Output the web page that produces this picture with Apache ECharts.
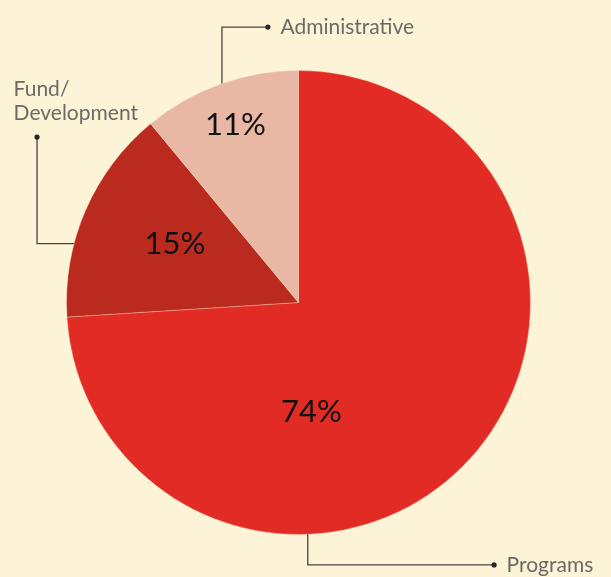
<!DOCTYPE html>
<html>
<head>
<meta charset="utf-8">
<script src="https://cdn.jsdelivr.net/npm/echarts@6/dist/echarts.min.js"></script>
<style>
html,body{margin:0;padding:0;background:#FDF3D7;}
#c{width:611px;height:577px;}
</style>
</head>
<body>
<div id="c"></div>
<script>
// Data
const categories = ['Programs', 'Fund/\nDevelopment', 'Administrative'];
const values = [74, 15, 11];
const colors = ['#E22B25', '#BA2A1F', '#E8B8A4'];

// Layout (styles/positions)
const CX = 298.5, CY = 302.5, R = 232;
// percent label offsets relative to center, in fractions of R
const pctOffsets = [[0.056, 0.472], [-0.533, -0.254], [-0.272, -0.763]];
// leader lines, in fractions of R relative to center
const leaders = [
  [[0.04, 0.578], [0.04, 1.131], [0.843, 1.131]],
  [[-0.692, -0.254], [-1.127, -0.254], [-1.127, -0.713]],
  [[-0.330, -0.871], [-0.330, -1.187], [-0.132, -1.187]]
];
const nameAnchors = [
  {p: [0.897, 1.131], align: 'left', va: 'middle'},
  {p: [-1.228, -0.764], align: 'left', va: 'bottom'},
  {p: [-0.078, -1.187], align: 'left', va: 'middle'}
];

const chart = echarts.init(document.getElementById('c'), null, {renderer: 'canvas'});
const px = (f) => [CX + f[0] * R, CY + f[1] * R];

const graphics = [];
leaders.forEach((pts, i) => {
  const p = pts.map(px);
  graphics.push({type: 'polyline', silent: true, shape: {points: p},
    style: {stroke: '#4a4242', lineWidth: 1.3, fill: null}});
  graphics.push({type: 'circle', silent: true, shape: {cx: p[2][0], cy: p[2][1], r: 2.6},
    style: {fill: '#2b2424'}});
  const a = px(nameAnchors[i].p);
  graphics.push({type: 'text', silent: true, x: a[0], y: a[1],
    style: {text: categories[i], fill: '#6c6a68', font: '21px Lato, "DejaVu Sans", sans-serif',
      align: nameAnchors[i].align, verticalAlign: nameAnchors[i].va, lineHeight: 24}});
});

chart.setOption({
  backgroundColor: '#FDF3D7',
  animation: false,
  graphic: graphics,
  series: [{
    type: 'pie',
    center: [CX, CY],
    radius: [0, R],
    startAngle: 90,
    clockwise: true,
    silent: true,
    itemStyle: {borderColor: 'rgba(253,243,215,0.5)', borderWidth: 0.6},
    labelLine: {show: false},
    label: {
      show: true,
      position: 'inside',
      formatter: (p) => values[p.dataIndex] + '%',
      color: '#111111',
      fontSize: 31,
      fontWeight: 400,
      fontFamily: 'Lato, "DejaVu Sans", sans-serif'
    },
    labelLayout: (params) => {
      const o = pctOffsets[params.dataIndex];
      return {x: CX + o[0] * R, y: CY + o[1] * R, align: 'center', verticalAlign: 'middle'};
    },
    data: values.map((v, i) => ({name: categories[i], value: v, itemStyle: {color: colors[i]}}))
  }]
});
</script>
</body>
</html>
